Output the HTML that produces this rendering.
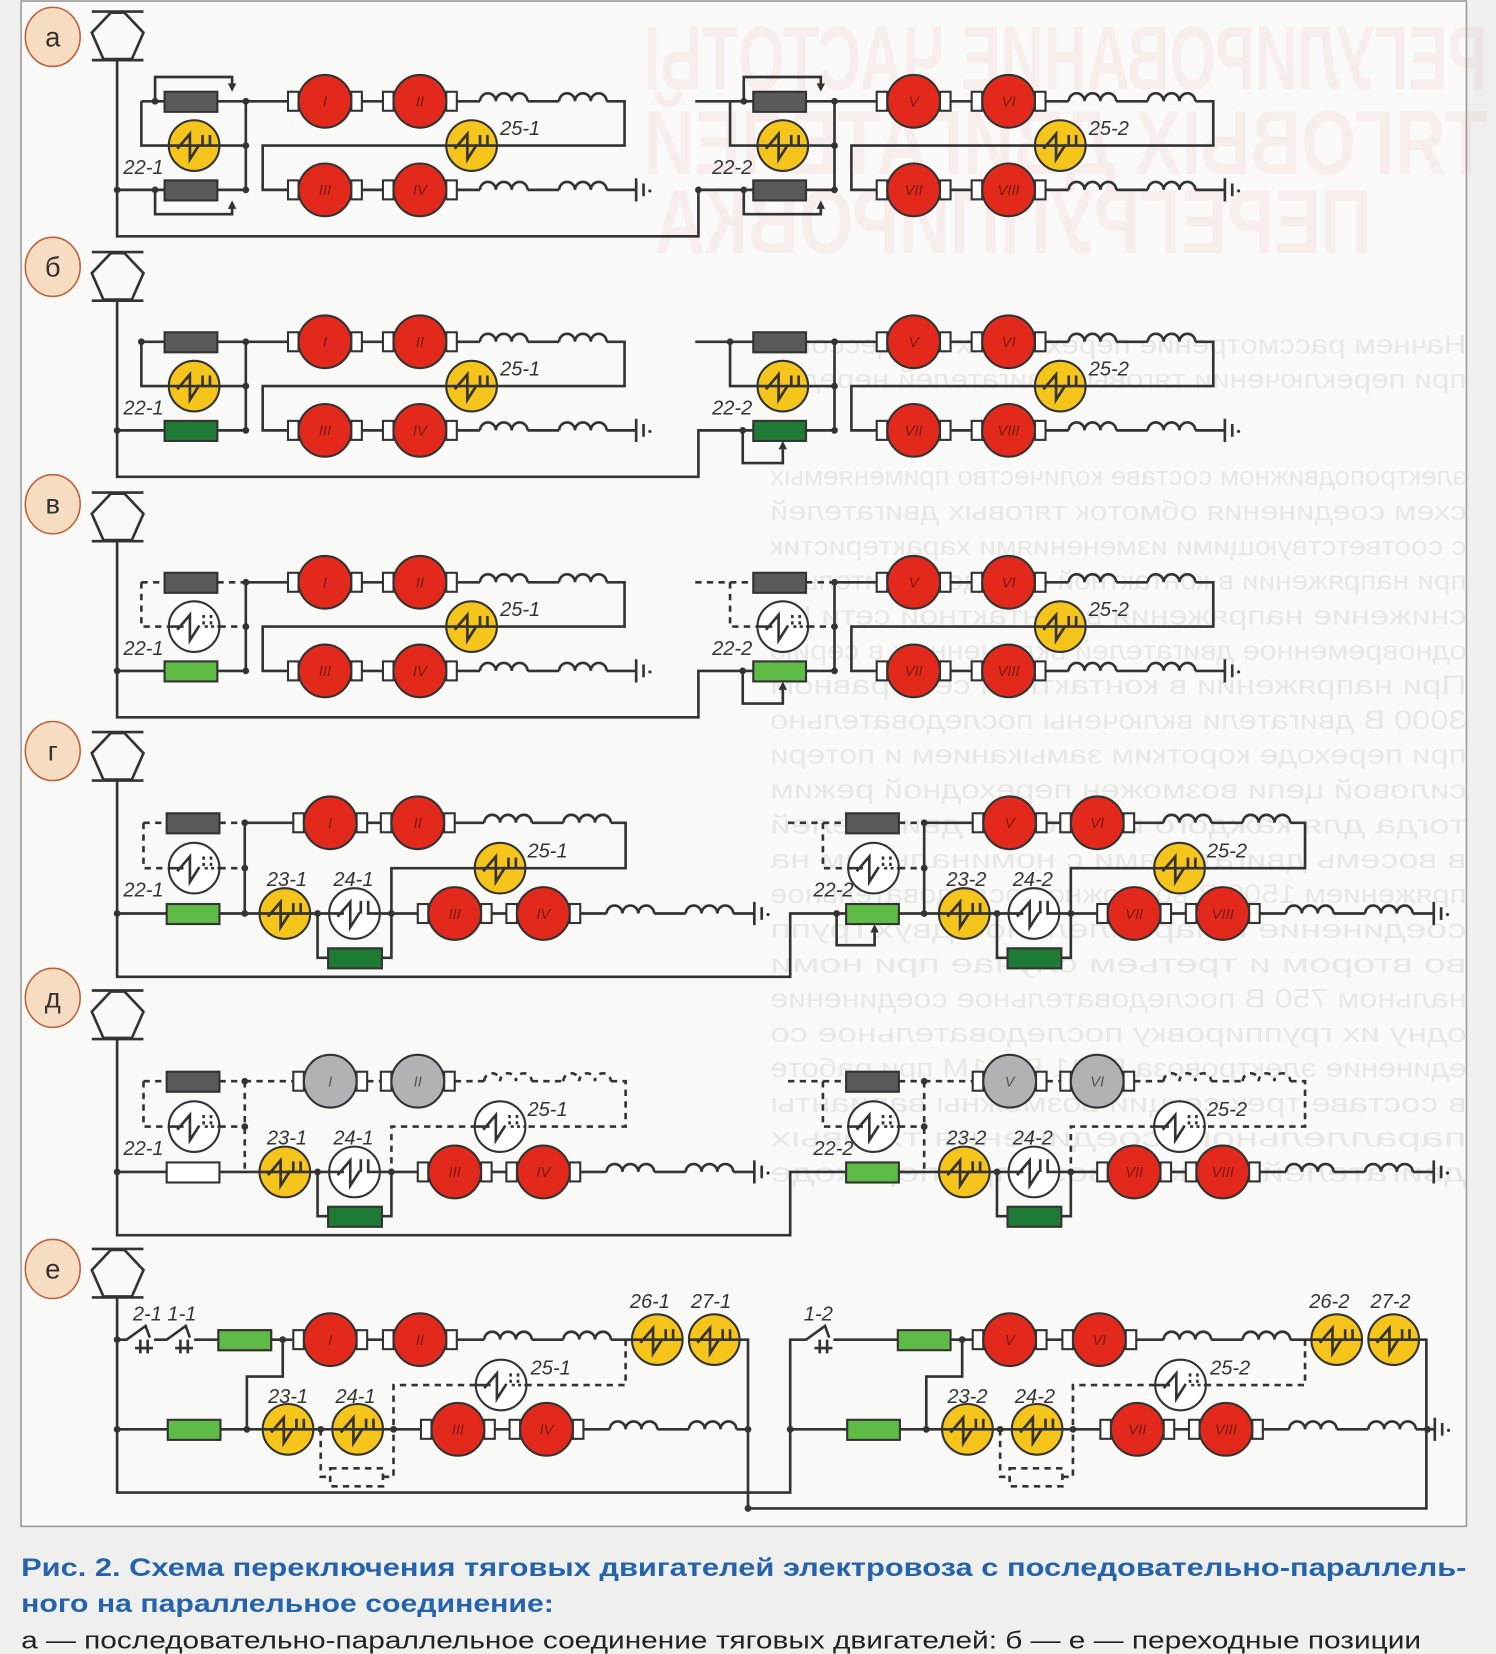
<!DOCTYPE html>
<html><head><meta charset="utf-8">
<style>
html,body{margin:0;padding:0;background:#efefed;}
svg{display:block}
.s{fill:none;stroke:#333;stroke-width:2.5}
.d{fill:none;stroke:#333;stroke-width:2.5;stroke-dasharray:6 5}
.lb{font-family:"Liberation Sans",sans-serif;font-style:italic;font-size:19px;fill:#333}
.rn{font-family:"Liberation Sans",sans-serif;font-style:italic;font-size:14px;fill:#7a1a14;text-anchor:middle}
.pl{font-family:"Liberation Sans",sans-serif;font-size:26px;fill:#333;text-anchor:middle}
</style></head><body>
<svg width="1496" height="1654" viewBox="0 0 1418 1568" preserveAspectRatio="none" xmlns="http://www.w3.org/2000/svg" xmlns:xlink="http://www.w3.org/1999/xlink">
<defs>
<g id="m"><rect x="-35" y="-9" width="10" height="18" fill="#fff" stroke="#333" stroke-width="2"/><rect x="25" y="-9" width="10" height="18" fill="#fff" stroke="#333" stroke-width="2"/><circle r="25" fill="#e3281c" stroke="#333" stroke-width="2"/></g>
<g id="mg"><rect x="-35" y="-9" width="10" height="18" fill="#fff" stroke="#333" stroke-width="2"/><rect x="25" y="-9" width="10" height="18" fill="#fff" stroke="#333" stroke-width="2"/><circle r="25" fill="#b2b2b6" stroke="#333" stroke-width="2"/></g>
<g id="y"><circle r="24" fill="#f6c51c" stroke="#333" stroke-width="2"/><path d="M-24 0H24M-16 3L-4 -11V13L5 -1M8 -10V0M15 -10V0" fill="none" stroke="#333" stroke-width="2.5"/></g>
<g id="w"><circle r="24" fill="#fff" stroke="#333" stroke-width="2"/><path d="M-24 0H-10M-16 3L-4 -11V13L5 -1" fill="none" stroke="#333" stroke-width="2.5"/><path d="M9 -11V0M16 -11V0M10 0H24" fill="none" stroke="#333" stroke-width="2.5" stroke-dasharray="3 3"/></g>
<g id="w2"><circle r="24" fill="#fff" stroke="#333" stroke-width="2"/><path d="M-24 0H-10M-16 3L-4 -11V13L5 -1M6 -12V0M13 -12V0H24" fill="none" stroke="#333" stroke-width="2.5"/></g>
<path id="c" d="M0 0a7.5 7.5 0 0 1 15 0a7.5 7.5 0 0 1 15 0a7.5 7.5 0 0 1 15 0"/>
<g id="gnd"><path d="M0 -11V11M7 -6V6" stroke="#333" stroke-width="2.5"/><circle cx="13" cy="1" r="1.5" fill="#333"/></g>
<circle id="n" r="3.2" fill="#333"/>
<g id="P"><path d="M87 -23H136M87 23H136" stroke="#333" stroke-width="2.5"/><polygon points="105,-22 118,-22 136,-3 125,22 98,22 87,-3" fill="none" stroke="#333" stroke-width="2.5"/></g>
<g id="L"><ellipse rx="26" ry="28" fill="#f6dcc0" stroke="#c0603c" stroke-width="1.5"/></g>

<g id="MS">
<path class="s" d="M233 96H273M343 96H363M433 96H455M500 96H530M575 96H592V138H249V180H273M343 180H363M433 180H455M500 180H530M575 180H603"/>
<g class="s"><use xlink:href="#c" x="455" y="96"/><use xlink:href="#c" x="530" y="96"/><use xlink:href="#c" x="455" y="180"/><use xlink:href="#c" x="530" y="180"/></g>
<use xlink:href="#m" x="308" y="96"/><use xlink:href="#m" x="398" y="96"/><use xlink:href="#m" x="308" y="180"/><use xlink:href="#m" x="398" y="180"/>
<use xlink:href="#y" x="447" y="138"/>
<use xlink:href="#gnd" x="603" y="180"/>
</g>
<g id="Ga">
<path class="s" d="M134 96H156M206 96H233M134 96V138H160M208 138H233M233 96V180M206 180H233M147 96V73H220V84M147 180V203H220V194"/>
<path d="M216 79H224L220 87Z M216 198H224L220 190Z" fill="#333"/>
<rect x="156" y="87" width="50" height="19" fill="#5a595c" stroke="#333" stroke-width="2"/>
<rect x="156" y="171" width="50" height="19" fill="#5a595c" stroke="#333" stroke-width="2"/>
<use xlink:href="#y" x="184" y="138"/>
<use xlink:href="#n" x="147" y="96"/><use xlink:href="#n" x="233" y="96"/><use xlink:href="#n" x="233" y="138"/><use xlink:href="#n" x="147" y="180"/><use xlink:href="#n" x="233" y="180"/>
</g>
<g id="Gb">
<path class="s" d="M134 96H156M206 96H233M134 96V138H160M208 138H233M233 96V180M206 180H233"/>
<rect x="156" y="87" width="50" height="19" fill="#5a595c" stroke="#333" stroke-width="2"/>
<rect x="156" y="171" width="50" height="19" fill="#1f7a36" stroke="#333" stroke-width="2"/>
<use xlink:href="#y" x="184" y="138"/>
<use xlink:href="#n" x="134" y="96"/><use xlink:href="#n" x="233" y="96"/><use xlink:href="#n" x="233" y="138"/><use xlink:href="#n" x="233" y="180"/>
</g>
<g id="Gv">
<path class="d" d="M134 96H156M206 96H233M134 96V138H160M208 138H233"/>
<path class="s" d="M233 96V180M206 180H233"/>
<rect x="156" y="87" width="50" height="19" fill="#5a595c" stroke="#333" stroke-width="2"/>
<rect x="156" y="171" width="50" height="19" fill="#5dbb46" stroke="#333" stroke-width="2"/>
<use xlink:href="#w" x="184" y="138"/>
<use xlink:href="#n" x="233" y="96"/><use xlink:href="#n" x="233" y="138"/><use xlink:href="#n" x="233" y="180"/>
</g>

<g id="Hg">
<path class="d" d="M136 780H158M208 780H232M136 780V823H160M208 823H232"/>
<path class="s" d="M208 866H246M232 780V866M232 780H278M348 780H361M431 780H459M504 780H534M579 780H593V823H371V866M294 866H312M360 866H396M466 866H480M550 866H575M620 866H650M695 866H715M301 866V908H311M362 908H371V866"/>
<g class="s"><use xlink:href="#c" x="459" y="780"/><use xlink:href="#c" x="534" y="780"/><use xlink:href="#c" x="575" y="866"/><use xlink:href="#c" x="650" y="866"/></g>
<use xlink:href="#gnd" x="715" y="866"/>
<rect x="158" y="771" width="50" height="19" fill="#5a595c" stroke="#333" stroke-width="2"/>
<rect x="158" y="857" width="50" height="19" fill="#5dbb46" stroke="#333" stroke-width="2"/>
<rect x="311" y="899" width="51" height="19" fill="#1f7a36" stroke="#333" stroke-width="2"/>
<use xlink:href="#w" x="184" y="823"/>
<use xlink:href="#m" x="313" y="780"/><use xlink:href="#m" x="396" y="780"/>
<use xlink:href="#m" x="431" y="866"/><use xlink:href="#m" x="515" y="866"/>
<use xlink:href="#y" x="474" y="823"/>
<use xlink:href="#y" x="270" y="866"/><use xlink:href="#w2" x="336" y="866"/>
<use xlink:href="#n" x="232" y="780"/><use xlink:href="#n" x="232" y="823"/><use xlink:href="#n" x="232" y="866"/><use xlink:href="#n" x="301" y="866"/><use xlink:href="#n" x="371" y="866"/>
</g>
<g id="Hd">
<path class="d" d="M136 780H158M208 780H232M136 780V823H160M208 823H232M232 780V866M232 780H278M348 780H361M431 780H459M504 780H534M579 780H593V823H371V866"/>
<path class="s" d="M208 866H246M294 866H312M360 866H396M466 866H480M550 866H575M620 866H650M695 866H715M301 866V908H311M362 908H371V866"/>
<g class="d"><use xlink:href="#c" x="459" y="780"/><use xlink:href="#c" x="534" y="780"/></g>
<g class="s"><use xlink:href="#c" x="575" y="866"/><use xlink:href="#c" x="650" y="866"/></g>
<use xlink:href="#gnd" x="715" y="866"/>
<rect x="158" y="771" width="50" height="19" fill="#5a595c" stroke="#333" stroke-width="2"/>
<rect x="311" y="899" width="51" height="19" fill="#1f7a36" stroke="#333" stroke-width="2"/>
<use xlink:href="#w" x="184" y="823"/>
<use xlink:href="#mg" x="313" y="780"/><use xlink:href="#mg" x="396" y="780"/>
<use xlink:href="#m" x="431" y="866"/><use xlink:href="#m" x="515" y="866"/>
<use xlink:href="#w" x="474" y="823"/>
<use xlink:href="#y" x="270" y="866"/><use xlink:href="#w2" x="336" y="866"/>
<use xlink:href="#n" x="232" y="780"/><use xlink:href="#n" x="232" y="823"/><use xlink:href="#n" x="301" y="866"/><use xlink:href="#n" x="371" y="866"/>
</g>
<g id="He">
<path class="s" d="M207 1270H278M348 1270H363M433 1270H459M504 1270H534M579 1270H599M268 1270V1305H234V1355M209 1355H249M297 1355H315M363 1355H399M469 1355H483M553 1355H578M623 1355H653M698 1355H709"/>
<path class="d" d="M593 1270V1313H499M451 1313H373V1355M304 1355V1400H313M363 1400H373V1355"/>
<rect x="313" y="1392" width="50" height="17" fill="none" stroke="#333" stroke-width="2.5" stroke-dasharray="6 5"/>
<g class="s"><use xlink:href="#c" x="459" y="1270"/><use xlink:href="#c" x="534" y="1270"/><use xlink:href="#c" x="578" y="1355"/><use xlink:href="#c" x="653" y="1355"/></g>
<rect x="207" y="1261" width="50" height="19" fill="#5dbb46" stroke="#333" stroke-width="2"/>
<rect x="159" y="1346" width="50" height="19" fill="#5dbb46" stroke="#333" stroke-width="2"/>
<use xlink:href="#m" x="313" y="1270"/><use xlink:href="#m" x="398" y="1270"/>
<use xlink:href="#m" x="434" y="1355"/><use xlink:href="#m" x="518" y="1355"/>
<use xlink:href="#w" x="475" y="1313"/>
<use xlink:href="#y" x="623" y="1270"/><use xlink:href="#y" x="677" y="1270"/>
<use xlink:href="#y" x="273" y="1355"/><use xlink:href="#y" x="339" y="1355"/>
<use xlink:href="#n" x="268" y="1270"/><use xlink:href="#n" x="234" y="1355"/><use xlink:href="#n" x="304" y="1355"/><use xlink:href="#n" x="373" y="1355"/><use xlink:href="#n" x="709" y="1355"/>
</g>
</defs>

<rect x="0" y="0" width="1418" height="1568" fill="#efefed"/>
<rect x="20" y="1" width="1370" height="1446" fill="#f9f9f7" stroke="#9a9a9a" stroke-width="1.5"/>

<g transform="scale(-1,1)" font-family="Liberation Sans, sans-serif" font-weight="bold" fill="#d83a3a" opacity="0.05">
<text x="-1410" y="85" font-size="86" textLength="800" lengthAdjust="spacingAndGlyphs">РЕГУЛИРОВАНИЕ ЧАСТОТЫ</text>
<text x="-1410" y="165" font-size="86" textLength="800" lengthAdjust="spacingAndGlyphs">ТЯГОВЫХ ДВИГАТЕЛЕЙ</text>
<text x="-1300" y="240" font-size="86" textLength="680" lengthAdjust="spacingAndGlyphs">ПЕРЕГРУППИРОВКА</text>
</g>
<g transform="scale(-1,1)" font-family="Liberation Sans, sans-serif" font-size="25" fill="#777" opacity="0.13">
<text x="-1390" y="335" textLength="660" lengthAdjust="spacingAndGlyphs">Начнем рассмотрение переходных процессов с</text>
<text x="-1390" y="368" textLength="660" lengthAdjust="spacingAndGlyphs">при переключении тяговых двигателей нередко</text>
<text x="-1390" y="460" textLength="660" lengthAdjust="spacingAndGlyphs">электроподвижном составе количество применяемых</text>
<text x="-1390" y="493" textLength="660" lengthAdjust="spacingAndGlyphs">схем соединения обмоток тяговых двигателей</text>
<text x="-1390" y="526" textLength="660" lengthAdjust="spacingAndGlyphs">с соответствующими изменениями характеристик</text>
<text x="-1390" y="559" textLength="660" lengthAdjust="spacingAndGlyphs">при напряжении в контактной сети дополнительно</text>
<text x="-1390" y="592" textLength="660" lengthAdjust="spacingAndGlyphs">снижение напряжения в контактной сети Uc</text>
<text x="-1390" y="625" textLength="660" lengthAdjust="spacingAndGlyphs">одновременное двигателей включенных в серию</text>
<text x="-1390" y="658" textLength="660" lengthAdjust="spacingAndGlyphs">При напряжении в контактной сети равном</text>
<text x="-1390" y="691" textLength="660" lengthAdjust="spacingAndGlyphs">3000 В двигатели включены последовательно</text>
<text x="-1390" y="724" textLength="660" lengthAdjust="spacingAndGlyphs">при переходе коротким замыканием и потери</text>
<text x="-1390" y="757" textLength="660" lengthAdjust="spacingAndGlyphs">силовой цепи возможен переходной режим</text>
<text x="-1390" y="790" textLength="660" lengthAdjust="spacingAndGlyphs">тогда для каждого из восьми двигателей</text>
<text x="-1390" y="823" textLength="660" lengthAdjust="spacingAndGlyphs">в восемь двигателями с номинальным на</text>
<text x="-1390" y="856" textLength="660" lengthAdjust="spacingAndGlyphs">пряжением 1500 В возможно последовательное</text>
<text x="-1390" y="889" textLength="660" lengthAdjust="spacingAndGlyphs">соединение и параллельное двух групп</text>
<text x="-1390" y="922" textLength="660" lengthAdjust="spacingAndGlyphs">во втором и третьем случае при номи</text>
<text x="-1390" y="955" textLength="660" lengthAdjust="spacingAndGlyphs">нальном 750 В последовательное соединение</text>
<text x="-1390" y="988" textLength="660" lengthAdjust="spacingAndGlyphs">одну их группировку последовательное со</text>
<text x="-1390" y="1021" textLength="660" lengthAdjust="spacingAndGlyphs">единение электровоза ВЛ11 ВЛ11М при работе</text>
<text x="-1390" y="1054" textLength="660" lengthAdjust="spacingAndGlyphs">в составе трех секций возможны варианты</text>
<text x="-1390" y="1087" textLength="660" lengthAdjust="spacingAndGlyphs">параллельного соединения тяговых</text>
<text x="-1390" y="1120" textLength="660" lengthAdjust="spacingAndGlyphs">двигателей электровоза при переходе</text>
</g>

<use xlink:href="#L" x="50" y="35"/><text class="pl" x="50" y="44">а</text><use xlink:href="#P" x="0" y="34"/>
<use xlink:href="#L" x="50" y="253"/><text class="pl" x="50" y="262">б</text><use xlink:href="#P" x="0" y="262"/>
<use xlink:href="#L" x="50" y="478"/><text class="pl" x="50" y="487">в</text><use xlink:href="#P" x="0" y="490"/>
<use xlink:href="#L" x="50" y="712"/><text class="pl" x="50" y="721">г</text><use xlink:href="#P" x="0" y="717"/>
<use xlink:href="#L" x="50" y="946"/><text class="pl" x="50" y="955">д</text><use xlink:href="#P" x="0" y="962"/>
<use xlink:href="#L" x="50" y="1203"/><text class="pl" x="50" y="1212">е</text><use xlink:href="#P" x="0" y="1207"/>

<path class="s" d="M111 57V224H662V180H714M111 180H156M659 96H692"/>
<use xlink:href="#n" x="111" y="180"/><use xlink:href="#n" x="662" y="180"/>
<use xlink:href="#MS"/><use xlink:href="#MS" x="558"/>
<use xlink:href="#Ga"/><use xlink:href="#Ga" x="558"/>

<path class="s" d="M111 285V452H662V408H714M111 408H156M659 324H692M704 408V439H742V426"/>
<path d="M738 426H746L742 418Z" fill="#333"/>
<use xlink:href="#n" x="111" y="408"/><use xlink:href="#n" x="704" y="408"/>
<use xlink:href="#MS" y="228"/><use xlink:href="#MS" x="558" y="228"/>
<use xlink:href="#Gb" y="228"/><use xlink:href="#Gb" x="558" y="228"/>

<path class="s" d="M111 513V680H662V636H714M111 636H156M704 636V667H742V654"/>
<path class="d" d="M659 552H692"/>
<path d="M738 654H746L742 646Z" fill="#333"/>
<use xlink:href="#n" x="111" y="636"/><use xlink:href="#n" x="704" y="636"/>
<use xlink:href="#MS" y="456"/><use xlink:href="#MS" x="558" y="456"/>
<use xlink:href="#Gv" y="456"/><use xlink:href="#Gv" x="558" y="456"/>

<path class="s" d="M111 740V926H749V866H803M111 866H158M793 866V896H829V884"/>
<path class="d" d="M747 780H780"/>
<path d="M825 884H833L829 876Z" fill="#333"/>
<use xlink:href="#n" x="111" y="866"/><use xlink:href="#n" x="793" y="866"/>
<use xlink:href="#Hg"/><use xlink:href="#Hg" x="644"/>

<path class="s" d="M111 985V1171H749V1111H803M111 1111H158"/>
<path class="d" d="M747 1025H780"/>
<rect x="158" y="1102" width="50" height="19" fill="#fff" stroke="#333" stroke-width="2"/>
<rect x="802" y="1102" width="50" height="19" fill="#5dbb46" stroke="#333" stroke-width="2"/>
<use xlink:href="#n" x="111" y="1111"/>
<use xlink:href="#Hd" y="245"/><use xlink:href="#Hd" x="644" y="245"/>

<path class="s" d="M111 1230V1415H749V1270H755M111 1355H159M749 1355H803M701 1270H709V1430H1352V1270H1345M111 1270H120L138 1257L142 1268M146 1270H158L176 1257L180 1268M184 1270H207M128 1278H145M133 1270V1283M140 1270V1283M166 1278H183M171 1270V1283M178 1270V1283M755 1270H764L782 1257L786 1268M772 1278H789M777 1270V1283M784 1270V1283M790 1270H851M1353 1355H1360"/>
<use xlink:href="#gnd" x="1360" y="1355"/>
<use xlink:href="#n" x="111" y="1270"/><use xlink:href="#n" x="111" y="1355"/><use xlink:href="#n" x="749" y="1355"/><use xlink:href="#n" x="709" y="1430"/>
<use xlink:href="#He"/><use xlink:href="#He" x="644"/>
<rect x="207" y="1261" width="50" height="19" fill="#5dbb46" stroke="#333" stroke-width="2"/>

<g class="rn">
<text x="308" y="101">I</text><text x="398" y="101">II</text><text x="308" y="185">III</text><text x="398" y="185">IV</text>
<text x="866" y="101">V</text><text x="956" y="101">VI</text><text x="866" y="185">VII</text><text x="956" y="185">VIII</text>
<text x="308" y="329">I</text><text x="398" y="329">II</text><text x="308" y="413">III</text><text x="398" y="413">IV</text>
<text x="866" y="329">V</text><text x="956" y="329">VI</text><text x="866" y="413">VII</text><text x="956" y="413">VIII</text>
<text x="308" y="557">I</text><text x="398" y="557">II</text><text x="308" y="641">III</text><text x="398" y="641">IV</text>
<text x="866" y="557">V</text><text x="956" y="557">VI</text><text x="866" y="641">VII</text><text x="956" y="641">VIII</text>
<text x="313" y="785">I</text><text x="396" y="785">II</text><text x="431" y="871">III</text><text x="515" y="871">IV</text>
<text x="957" y="785">V</text><text x="1040" y="785">VI</text><text x="1075" y="871">VII</text><text x="1159" y="871">VIII</text>
<text x="313" y="1030" fill="#555">I</text><text x="396" y="1030" fill="#555">II</text><text x="431" y="1116">III</text><text x="515" y="1116">IV</text>
<text x="957" y="1030" fill="#555">V</text><text x="1040" y="1030" fill="#555">VI</text><text x="1075" y="1116">VII</text><text x="1159" y="1116">VIII</text>
<text x="313" y="1275">I</text><text x="398" y="1275">II</text><text x="434" y="1360">III</text><text x="518" y="1360">IV</text>
<text x="957" y="1275">V</text><text x="1042" y="1275">VI</text><text x="1078" y="1360">VII</text><text x="1162" y="1360">VIII</text>
</g>

<g class="lb">
<text x="117" y="165">22-1</text><text x="675" y="165">22-2</text><text x="474" y="128">25-1</text><text x="1032" y="128">25-2</text>
<text x="117" y="393">22-1</text><text x="675" y="393">22-2</text><text x="474" y="356">25-1</text><text x="1032" y="356">25-2</text>
<text x="117" y="621">22-1</text><text x="675" y="621">22-2</text><text x="474" y="584">25-1</text><text x="1032" y="584">25-2</text>
<text x="117" y="850">22-1</text><text x="771" y="850">22-2</text><text x="500" y="813">25-1</text><text x="1144" y="813">25-2</text>
<text x="253" y="840">23-1</text><text x="316" y="840">24-1</text><text x="897" y="840">23-2</text><text x="960" y="840">24-2</text>
<text x="117" y="1095">22-1</text><text x="771" y="1095">22-2</text><text x="500" y="1058">25-1</text><text x="1144" y="1058">25-2</text>
<text x="253" y="1085">23-1</text><text x="316" y="1085">24-1</text><text x="897" y="1085">23-2</text><text x="960" y="1085">24-2</text>
<text x="126" y="1252">2-1 1-1</text><text x="762" y="1252">1-2</text>
<text x="597" y="1240">26-1</text><text x="655" y="1240">27-1</text><text x="1241" y="1240">26-2</text><text x="1299" y="1240">27-2</text>
<text x="503" y="1303">25-1</text><text x="1147" y="1303">25-2</text>
<text x="254" y="1330">23-1</text><text x="318" y="1330">24-1</text><text x="898" y="1330">23-2</text><text x="962" y="1330">24-2</text>
</g>

<g font-family="Liberation Sans, sans-serif">
<text x="20" y="1494" font-size="24" font-weight="bold" fill="#2563ad" textLength="1370" lengthAdjust="spacingAndGlyphs">Рис. 2. Схема переключения тяговых двигателей электровоза с последовательно-параллель-</text>
<text x="20" y="1528" font-size="24" font-weight="bold" fill="#2563ad" textLength="505" lengthAdjust="spacingAndGlyphs">ного на параллельное соединение:</text>
<text x="20" y="1563" font-size="23" fill="#222" textLength="1327" lengthAdjust="spacingAndGlyphs">а — последовательно-параллельное соединение тяговых двигателей: б — е — переходные позиции</text>
</g>
</svg>
</body></html>
